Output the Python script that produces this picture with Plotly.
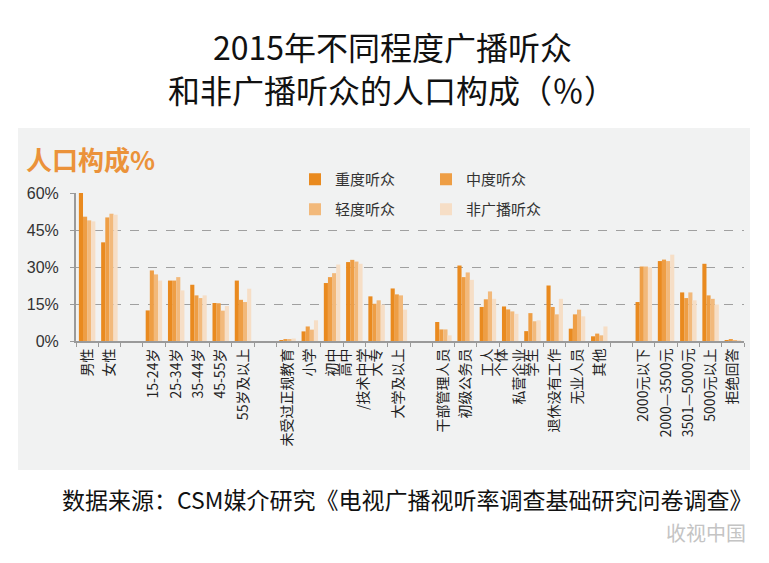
import plotly.graph_objects as go

# categories (blank names are the gaps between groups)
categories = ["男性", "女性", " ",
              "15-24岁", "25-34岁", "35-44岁", "45-55岁", "55岁及以上", "  ",
              "未受过正规教育", "小学", "初中", "高中<br>/技术中学", "大专", "大学及以上", "   ",
              "干部管理人员", "初级公务员", "工人", "个体<br>私营企业", "学生", "退休没有工作", "无业人员", "其他", "    ",
              "2000元以下", "2000—3500元", "3501—5000元", "5000元以上", "拒绝回答"]

heavy = [60, 40, None,
         12.4, 24.5, 22.8, 15.4, 24.5, None,
         0.4, 3.9, 23.5, 32.0, 18.1, 21.3, None,
         7.7, 30.6, 13.8, 14.0, 4.0, 22.5, 5.0, 1.9, None,
         15.8, 32.4, 19.7, 31.3, 0.4]
medium = [50.4, 50.1, None,
          28.6, 24.5, 18.5, 15.3, 16.7, None,
          0.6, 5.9, 25.9, 32.9, 15.1, 18.9, None,
          4.7, 25.9, 16.9, 12.8, 11.3, 13.8, 10.8, 3.0, None,
          30.2, 33.0, 17.4, 18.5, 0.5]
light = [48.9, 51.6, None,
         27.0, 25.9, 17.4, 12.3, 15.8, None,
         0.5, 4.6, 27.5, 32.2, 16.5, 18.5, None,
         4.7, 27.8, 20.1, 12.0, 8.0, 10.8, 12.7, 2.3, None,
         30.2, 32.4, 19.7, 17.1, 0.4]
non_listen = [48.5, 51.2, None,
              24.5, 20.5, 18.5, 14.2, 21.2, None,
              1.0, 8.4, 31.0, 31.3, 14.8, 12.7, None,
              2.3, 24.8, 17.1, 11.0, 8.4, 17.1, 10.0, 5.9, None,
              29.9, 35.0, 16.5, 14.8, 0.3]

series_names = ["重度听众", "中度听众", "轻度听众", "非广播听众"]
colors = ["#E98A1F", "#EE9E45", "#F2B97B", "#F6DEC6"]
y_ticks = [0, 15, 30, 45, 60]

# the page puts the figure 8px in from the window corner
OFF = 8
W, H = 769 - 2 * OFF, 563 - 2 * OFF
L, R, T, B = 76, 744, 193, 341  # plot area, window pixels
FONT = "Noto Sans CJK SC"


def px(x, y):
    # window pixel -> paper coordinates
    return (x - L) / (R - L), (B - y) / (B - T)


fig = go.Figure()
for i, (name, vals) in enumerate(zip(series_names, [heavy, medium, light, non_listen])):
    fig.add_trace(go.Bar(
        x=categories, y=vals, name=name,
        marker=dict(color=colors[i], line=dict(width=0)),
        legend="legend" if i < 2 else "legend2",
    ))

# grey panel behind the chart
x0, y0 = px(18, 470)
x1, y1 = px(750, 128)
fig.add_shape(type="rect", xref="paper", yref="paper", x0=x0, y0=y0, x1=x1, y1=y1,
              fillcolor="#F1F2F2", line=dict(width=0), layer="below")

lx, ly1 = px(295, 163)
_, ly2 = px(295, 193)
legend_style = dict(orientation="h", xanchor="left", yanchor="top", x=lx,
                    bgcolor="rgba(0,0,0,0)", font=dict(family=FONT, size=15, color="#333333"),
                    entrywidth=86, entrywidthmode="pixels", traceorder="normal")

annotations = []
tx, ty = px(392, 46)
annotations.append(dict(text="2015年不同程度广播听众", x=tx, y=ty))
tx, ty = px(392, 89)
annotations.append(dict(text="和非广播听众的人口构成（％）", x=tx, y=ty))
for a in annotations:
    a.update(xref="paper", yref="paper", showarrow=False, xanchor="center", yanchor="middle",
             font=dict(family=FONT, size=32, color="#111111"))

sx, sy = px(24, 158)
annotations.append(dict(text="<b>人口构成%</b>", x=sx, y=sy, xref="paper", yref="paper",
                        showarrow=False, xanchor="left", yanchor="middle",
                        font=dict(family=FONT, size=26, color="#EB923A")))
fx, fy = px(60, 499)
annotations.append(dict(text="数据来源：CSM媒介研究《电视广播视听率调查基础研究问卷调查》",
                        x=fx, y=fy, xref="paper", yref="paper", showarrow=False,
                        xanchor="left", yanchor="middle",
                        font=dict(family=FONT, size=23, color="#111111")))
wx, wy = px(664, 532)
annotations.append(dict(text="收视中国", x=wx, y=wy, xref="paper", yref="paper", showarrow=False,
                        xanchor="left", yanchor="middle",
                        font=dict(family=FONT, size=20, color="#C4C4C4")))

fig.update_layout(
    width=W, height=H,
    margin=dict(l=L - OFF, r=W - (R - OFF), t=T - OFF, b=H - (B - OFF), pad=0),
    paper_bgcolor="white", plot_bgcolor="rgba(0,0,0,0)",
    barmode="group", bargap=0.26, bargroupgap=0,
    font=dict(family=FONT, color="#222222"),
    legend=dict(y=ly1, **legend_style),
    legend2=dict(y=ly2, **legend_style),
    annotations=annotations,
)
fig.update_xaxes(
    type="category", tickangle=-90, tickson="boundaries", ticks="outside",
    ticklen=4, tickcolor="#9A9A9A", showline=True, linecolor="#9A9A9A", linewidth=2,
    showgrid=False, tickfont=dict(family=FONT, size=14, color="#222222"),
)
fig.update_yaxes(
    range=[0, 60], tickvals=y_ticks, ticktext=[f"{v}%" for v in y_ticks],
    ticks="outside", ticklen=4, tickcolor="#9A9A9A", showline=True, linecolor="#9A9A9A",
    linewidth=2, showgrid=True, gridcolor="#A0A0A0", griddash="dash", gridwidth=1,
    zeroline=False, ticklabelstandoff=8,
    tickfont=dict(family="Liberation Sans", size=16, color="#333333"),
)

fig.write_html("out.html")
